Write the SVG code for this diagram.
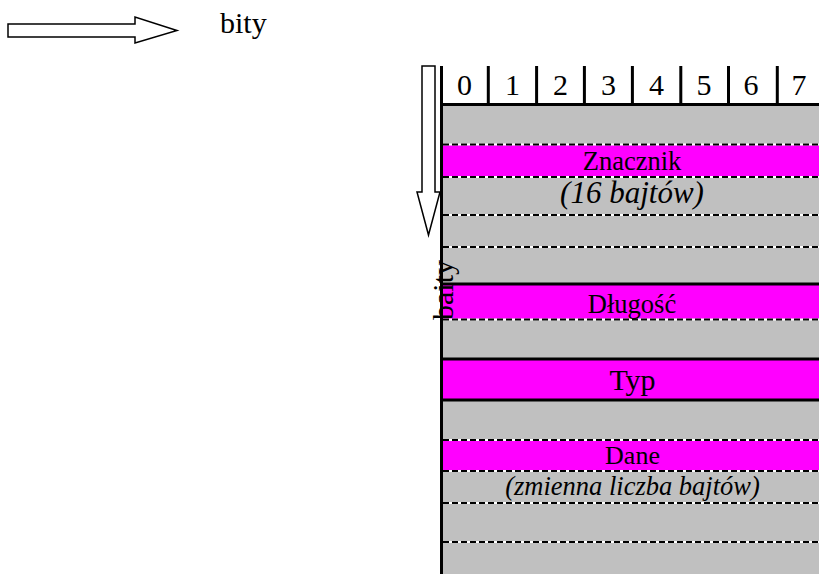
<svg xmlns="http://www.w3.org/2000/svg" width="819" height="574" viewBox="0 0 819 574" font-family="'Liberation Serif', 'DejaVu Serif', serif">
<style>
text{font-family:'Liberation Serif','DejaVu Serif',serif;fill:#000}
.gray{fill:#c0c0c0}
.mag{fill:#ff00ff}
.dw{stroke:#fff;stroke-width:2}
.dk{stroke:#000;stroke-width:2;stroke-dasharray:6 3}
.solid{stroke:#000;stroke-width:3}
.arrow{fill:#fff;stroke:#000;stroke-width:1.5;stroke-linejoin:miter}
.c{text-anchor:middle}
</style>
<rect width="819" height="574" fill="#fff"/>
<g id="table">
<rect class="gray" x="443" y="106" width="376" height="468"/>
<rect class="mag" x="443" y="145" width="376" height="32"/>
<rect class="mag" x="443" y="284" width="376" height="35"/>
<rect class="mag" x="443" y="360" width="376" height="39"/>
<rect class="mag" x="443" y="440" width="376" height="31"/>
</g>
<g id="connectors">
<g class="dw">
<line x1="443" y1="144.5" x2="819" y2="144.5"/>
<line x1="443" y1="177" x2="819" y2="177"/>
<line x1="443" y1="215" x2="819" y2="215"/>
<line x1="443" y1="247" x2="819" y2="247"/>
<line x1="443" y1="319.5" x2="819" y2="319.5"/>
<line x1="443" y1="440" x2="819" y2="440"/>
<line x1="443" y1="471" x2="819" y2="471"/>
<line x1="443" y1="503" x2="819" y2="503"/>
<line x1="443" y1="542" x2="819" y2="542"/>
</g>
<g class="dk">
<line x1="443" y1="144.5" x2="819" y2="144.5"/>
<line x1="443" y1="177" x2="819" y2="177"/>
<line x1="443" y1="215" x2="819" y2="215"/>
<line x1="443" y1="247" x2="819" y2="247"/>
<line x1="443" y1="319.5" x2="819" y2="319.5"/>
<line x1="443" y1="440" x2="819" y2="440"/>
<line x1="443" y1="471" x2="819" y2="471"/>
<line x1="443" y1="503" x2="819" y2="503"/>
<line x1="443" y1="542" x2="819" y2="542"/>
</g>
<g class="solid">
<line x1="440" y1="284" x2="819" y2="284"/>
<line x1="440" y1="359" x2="819" y2="359"/>
<line x1="440" y1="400" x2="819" y2="400"/>
<line x1="440" y1="104.5" x2="819" y2="104.5"/>
<line x1="441.5" y1="66" x2="441.5" y2="574"/>
<line x1="488.3" y1="66" x2="488.3" y2="104"/>
<line x1="536.6" y1="66" x2="536.6" y2="104"/>
<line x1="584.4" y1="66" x2="584.4" y2="104"/>
<line x1="632.4" y1="66" x2="632.4" y2="104"/>
<line x1="680.8" y1="66" x2="680.8" y2="104"/>
<line x1="728.5" y1="66" x2="728.5" y2="104"/>
<line x1="777.3" y1="66" x2="777.3" y2="104"/>
</g>
</g>
<g id="header">
<text x="464.5" y="95" font-size="30" class="c">0</text>
<text x="512.5" y="95" font-size="30" class="c">1</text>
<text x="560.5" y="95" font-size="30" class="c">2</text>
<text x="608.5" y="95" font-size="30" class="c">3</text>
<text x="656.5" y="95" font-size="30" class="c">4</text>
<text x="704" y="95" font-size="30" class="c">5</text>
<text x="751" y="95" font-size="30" class="c">6</text>
<text x="799" y="95" font-size="30" class="c">7</text>
</g>
<g id="arrow-bity">
<polygon class="arrow" points="8,24 135,24 135,17 177,30.5 135,43 135,37 8,37"/>
<text x="220" y="33" font-size="30">bity</text>
</g>
<g id="arrow-baity">
<polygon class="arrow" points="422,66 435,66 435,192 440,192 428.5,235 417,192 422,192"/>
<text transform="translate(453,320) rotate(-90)" font-size="30">baity</text>
</g>
<g id="znacznik">
<text x="632" y="170" font-size="26.5" class="c">Znacznik</text>
<text x="632" y="203" font-size="31" font-style="italic" class="c">(16 bajtów)</text>
</g>
<g id="dlugosc">
<text x="632" y="313" font-size="26.5" class="c">Długość</text>
</g>
<g id="typ">
<text x="632.5" y="390" font-size="30" class="c">Typ</text>
</g>
<g id="dane">
<text x="632.5" y="464" font-size="26" class="c">Dane</text>
<text x="632.5" y="495" font-size="26.5" font-style="italic" class="c">(zmienna liczba bajtów)</text>
</g>
</svg>
